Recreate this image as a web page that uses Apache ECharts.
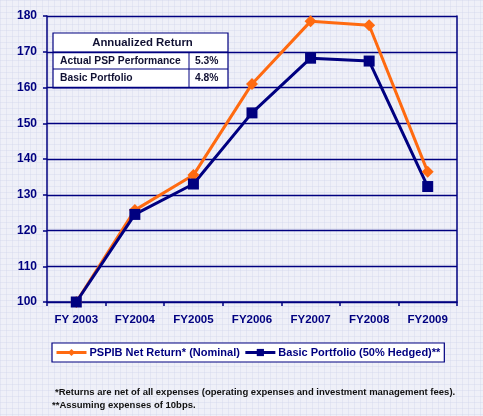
<!DOCTYPE html>
<html><head><meta charset="utf-8">
<script src="https://cdn.jsdelivr.net/npm/echarts@6/dist/echarts.min.js"></script>
<style>
html,body{margin:0;padding:0;}
body{width:483px;height:416px;background-color:#eff0f8;
background-image:
linear-gradient(rgba(210,214,235,0.4) 1px, transparent 1px),
linear-gradient(90deg, rgba(210,214,235,0.4) 1px, transparent 1px);
background-size:6px 6px;}
#c{width:483px;height:416px;}
</style></head>
<body><div id="c"></div>
<script>
var categories = ['FY 2003','FY2004','FY2005','FY2006','FY2007','FY2008','FY2009'];
var pspibNet = [100, 125.7, 135.5, 161, 178.5, 177.4, 136.4];
var basicPortfolio = [100, 124.5, 133, 152.9, 168.2, 167.4, 132.3];
var seriesNames = ['PSPIB Net Return* (Nominal)', 'Basic Portfolio (50% Hedged)**'];
var tableTitle = 'Annualized Return';
var tableRows = [['Actual PSP Performance','5.3%'],['Basic Portfolio','4.8%']];
var footnotes = ['*Returns are net of all expenses (operating expenses and investment management fees).','**Assuming expenses of 10bps.'];

var navy = '#000080', orange = '#ff6a10';
var font = 'Liberation Sans, Arial, sans-serif';
var chart = echarts.init(document.getElementById('c'));
var tbl = [];
var tx = 53, ty = 33, tw = 175, colX = 189;
tbl.push({type:'rect', shape:{x:tx,y:ty,width:tw,height:55}, style:{fill:'#ffffff',stroke:navy,lineWidth:1.2}});
tbl.push({type:'line', shape:{x1:tx,y1:52,x2:tx+tw,y2:52}, style:{stroke:navy,lineWidth:1}});
tbl.push({type:'line', shape:{x1:tx,y1:69,x2:tx+tw,y2:69}, style:{stroke:navy,lineWidth:1}});
tbl.push({type:'line', shape:{x1:colX,y1:52,x2:colX,y2:87}, style:{stroke:navy,lineWidth:1}});
tbl.push({type:'text', x:tx+tw/2+2, y:43, style:{text:tableTitle, fill:'#111133', font:'bold 11.4px '+font, align:'center', verticalAlign:'middle'}});
tableRows.forEach(function(r,i){
  var cy = 61 + i*17;
  tbl.push({type:'text', x:60, y:cy, style:{text:r[0], fill:'#111133', font:'bold 10.3px '+font, verticalAlign:'middle'}});
  tbl.push({type:'text', x:195, y:cy, style:{text:r[1], fill:'#111133', font:'bold 10.3px '+font, verticalAlign:'middle'}});
});
footnotes.forEach(function(f,i){
  tbl.push({type:'text', x:i===0?55:52, y:392+i*13, style:{text:f, fill:'#111111', font:'bold 9.5px '+font, verticalAlign:'middle'}});
});

chart.setOption({
  animation:false,
  grid:{left:47,right:26,top:16,bottom:114},
  legend:{
    data:seriesNames,
    left:52, top:343, width:390, height:20,
    padding:[4,4,4,3], itemGap:4, itemWidth:30, itemHeight:9,
    borderColor:navy, borderWidth:1.2, backgroundColor:'#ffffff',
    lineStyle:{width:3},
    textStyle:{fontFamily:font, fontSize:11, fontWeight:'bold', color:navy, padding:[0,0,0,-2]}
  },
  xAxis:{
    type:'category', data:categories, boundaryGap:true,
    axisLine:{lineStyle:{color:navy,width:1.5}},
    axisTick:{show:true, length:4, lineStyle:{color:navy,width:1.5}},
    axisLabel:{fontFamily:font, fontSize:11.5, fontWeight:'bold', color:navy, margin:12}
  },
  yAxis:[{
    type:'value', min:100, max:180, interval:10,
    axisLine:{show:true, lineStyle:{color:navy,width:1.5}},
    axisTick:{show:true, length:4, lineStyle:{color:navy,width:1.5}},
    axisLabel:{fontFamily:font, fontSize:12, fontWeight:'bold', color:navy, margin:10},
    splitLine:{show:true, lineStyle:{color:navy,width:1.3}}
  },{
    type:'value', min:100, max:180, interval:10, position:'right',
    axisLine:{show:true, lineStyle:{color:navy,width:1.5}},
    axisTick:{show:false}, axisLabel:{show:false}, splitLine:{show:false}
  }],
  series:[{
    name:seriesNames[0], type:'line', data:pspibNet,
    symbol:'diamond', symbolSize:12,
    lineStyle:{color:orange,width:3}, itemStyle:{color:orange}
  },{
    name:seriesNames[1], type:'line', data:basicPortfolio,
    symbol:'rect', symbolSize:11,
    lineStyle:{color:navy,width:3}, itemStyle:{color:navy}
  }],
  graphic:tbl
});
</script></body></html>
